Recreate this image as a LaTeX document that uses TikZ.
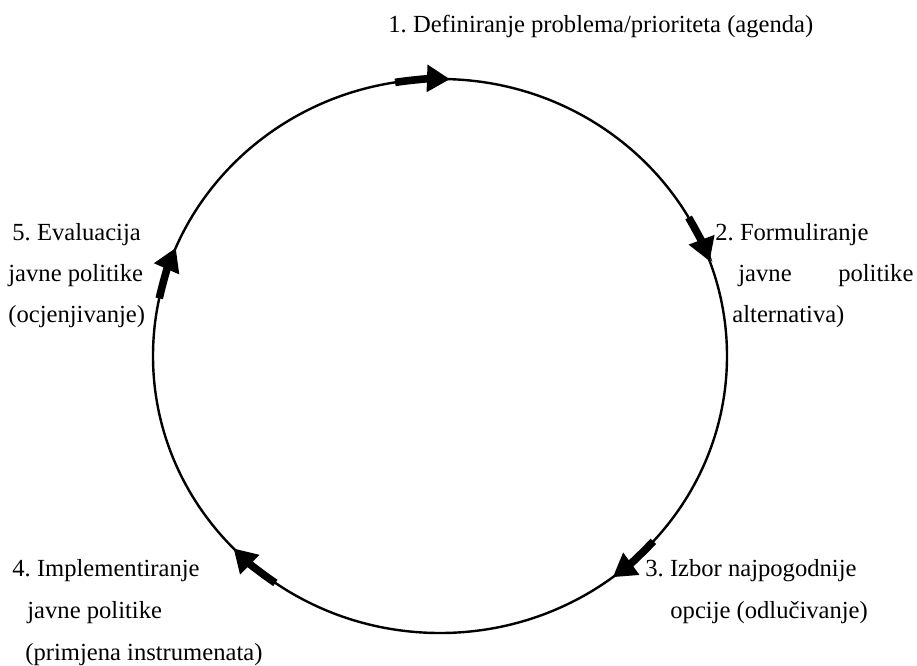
\documentclass[tikz,border=0pt]{standalone}
\usepackage{fontspec}
\setmainfont{Liberation Serif}
\usetikzlibrary{arrows.meta}

\begin{document}
\frenchspacing
\begin{tikzpicture}[x=0.5pt, y=-0.5pt,
    every node/.style={font=\fontsize{12.3}{14}\selectfont, inner sep=0pt, anchor=base west},
    flow/.style={line width=3.8pt, -{Triangle[length=11.5pt,width=13pt]}}]
                \useasboundingbox (0,0) rectangle (917,665);

                % Cycle
                \coordinate (c) at (440,356);
                \draw[line width=1.2pt] (c) ellipse [x radius=287, y radius=277];

                % Arrows on the cycle
                \draw[flow] (c) ++(-99:287 and 277) arc[start angle=-99, end angle=-88, x radius=287, y radius=277];
                \draw[flow] (c) ++(-30:287 and 277) arc[start angle=-30, end angle=-20, x radius=287, y radius=277];
                \draw[flow] (c) ++(42:287 and 277) arc[start angle=42, end angle=53, x radius=287, y radius=277];
                \draw[flow] (c) ++(125:287 and 277) arc[start angle=125, end angle=136, x radius=287, y radius=277];
                \draw[flow] (c) ++(192:287 and 277) arc[start angle=192, end angle=203, x radius=287, y radius=277];

                % 1. Agenda
                \node (agenda) at (388,32) {1. Definiranje problema/prioriteta (agenda)};

                % 2. Formulation
                \node (form1) at (715,240) {2. Formuliranje};
                \node (form2) at (738,281) {\makebox[87.5pt][s]{javne\hfill politike}};
                \node (form3) at (732,322) {alternativa)};

                % 3. Decision
                \node (izbor1) at (645,576) {3. Izbor najpogodnije};
                \node (izbor2) at (670,618) {opcije (odlučivanje)};

                % 4. Implementation
                \node (impl1) at (12,576) {4. Implementiranje};
                \node (impl2) at (27,618) {javne politike};
                \node (impl3) at (25,660) {(primjena instrumenata)};

                % 5. Evaluation
                \node (eval1) at (12,240) {5. Evaluacija};
                \node (eval2) at (8,281) {javne politike};
                \node (eval3) at (8,322) {(ocjenjivanje)};
            \end{tikzpicture}
\end{document}
